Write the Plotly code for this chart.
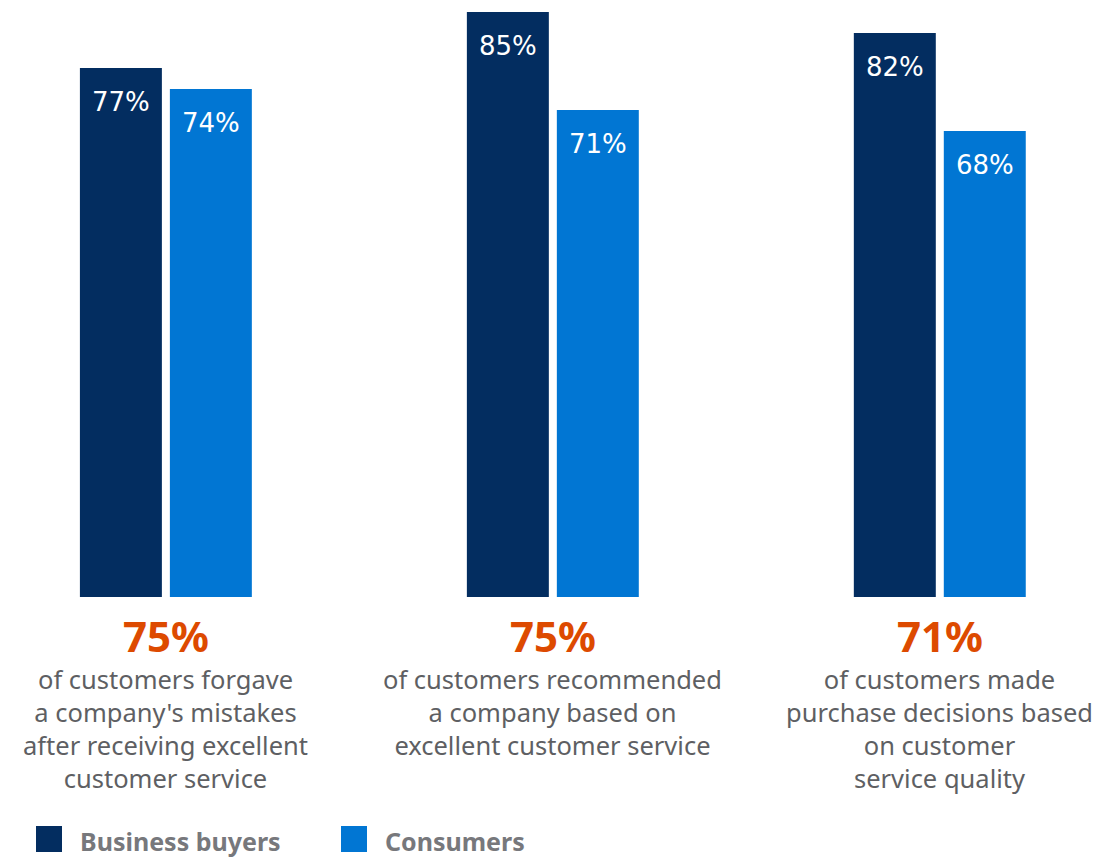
"""Customer service impact chart: business buyers vs consumers."""
import plotly.graph_objects as go

NAVY = "#032D60"
BLUE = "#0176D3"
ORANGE = "#DD4A00"
GREY = "#5E5F63"
LEGEND_GREY = "#77787C"

categories = ["forgave", "recommended", "purchase"]
business_buyers = [77, 85, 82]
consumers = [74, 71, 68]
headline_values = ["75%", "75%", "71%"]
descriptions = [
    "of customers forgave<br>a company's mistakes<br>after receiving excellent<br>customer service",
    "of customers recommended<br>a company based on<br>excellent customer service",
    "of customers made<br>purchase decisions based<br>on customer<br>service quality",
]
series_names = ["Business buyers", "Consumers"]

# page has an 8px body margin, so the figure is sized to fit inside it
W, H = 1092, 850
PLOT_BOTTOM = 589
PLOT_H = 585


def py(y_px):
    """figure pixel (from top) -> paper y"""
    return (PLOT_BOTTOM - y_px) / PLOT_H


def px(x_px):
    return x_px / W


fig = go.Figure()
annotations = []
for (name, values, color), shift in zip(
    [(series_names[0], business_buyers, NAVY), (series_names[1], consumers, BLUE)],
    [-45, 45],
):
    fig.add_trace(
        go.Bar(
            x=categories,
            y=values,
            name=name,
            marker=dict(color=color, line=dict(width=0)),
            showlegend=False,
            hoverinfo="x+y+name",
        )
    )
    for cat, val in zip(categories, values):
        annotations.append(
            dict(
                x=cat, y=val, xref="x", yref="y", text=f"{val}%", showarrow=False,
                xanchor="center", yanchor="middle", xshift=shift, yshift=-34,
                font=dict(size=26, color="white", family="DejaVu Sans"),
            )
        )

for cat, head, desc in zip(categories, headline_values, descriptions):
    annotations.append(
        dict(
            x=cat, xref="x", y=py(627), yref="paper", text=head, showarrow=False,
            yanchor="middle", xanchor="center", borderpad=0,
            font=dict(size=42, color=ORANGE, family="Noto Sans", weight="bold"),
        )
    )
    annotations.append(
        dict(
            x=cat, xref="x", y=py(653), yref="paper", text=desc, showarrow=False,
            yanchor="top", xanchor="center", align="center", borderpad=0,
            font=dict(size=25.5, color=GREY, family="Noto Sans"),
        )
    )

# custom legend: squares + bold labels along the bottom
legend_items = [(series_names[0], NAVY, 28), (series_names[1], BLUE, 333)]
shapes = []
for name, color, x0 in legend_items:
    shapes.append(
        dict(type="rect", xref="paper", yref="paper", x0=px(x0), x1=px(x0 + 26),
             y0=py(844), y1=py(818), fillcolor=color, line=dict(width=0))
    )
    annotations.append(
        dict(
            x=px(x0 + 43), xref="paper", y=py(833), yref="paper", text=name,
            showarrow=False, xanchor="left", yanchor="middle", borderpad=0,
            font=dict(size=25, color=LEGEND_GREY, family="Noto Sans", weight="bold"),
        )
    )

fig.update_layout(
    width=W,
    height=H,
    margin=dict(l=0, r=0, t=PLOT_BOTTOM - PLOT_H, b=H - PLOT_BOTTOM),
    plot_bgcolor="white",
    paper_bgcolor="white",
    barmode="group",
    bargap=0.535,
    bargroupgap=0.089,
    xaxis=dict(range=[-0.408, 2.414], showticklabels=False, showgrid=False, zeroline=False,
               showline=False, ticks="", fixedrange=True),
    yaxis=dict(range=[1.4, 85], visible=False, showgrid=False, zeroline=False, fixedrange=True),
    annotations=annotations,
    shapes=shapes,
)

fig.write_html("out.html")
